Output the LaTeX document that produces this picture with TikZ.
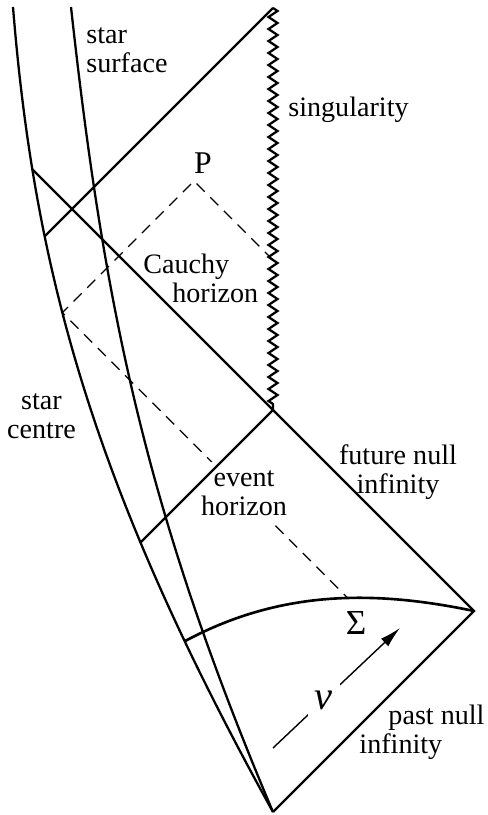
\documentclass[tikz,border=0pt]{standalone}
\usepackage{fontspec}
\setmainfont{Liberation Serif}
\usetikzlibrary{arrows.meta,intersections,decorations.pathmorphing}

\begin{document}
\begin{tikzpicture}[>={Latex[length=12pt,width=6pt]},
  every node/.style={font=\fontsize{16}{16.5}\selectfont, inner sep=0pt},
  line/.style={line width=1.3pt},
  ray/.style={line width=0.7pt, dash pattern=on 6.5pt off 4.5pt}]
  \useasboundingbox (0,0) rectangle (9.76,16.3);
  \coordinate (top) at (5.46,16.14);
  \coordinate (Ip) at (5.46,8.10);
  \coordinate (I0) at (9.48,4.08);
  \coordinate (Im) at (5.46,0.06);
  \coordinate (P) at (3.88,12.68);
  \coordinate (v0) at (5.46,1.34);
  \coordinate (v1) at (8.00,3.74);

  % star centre, star surface and Sigma
  \draw[line, name path=centre] (0.26,16.16) .. controls (0.70,10.70) and (1.95,6.40) .. coordinate[pos=0.81] (s0) (Im);
  \draw[line] (1.42,16.16) .. controls (2.08,10.16) and (2.92,6.06) .. (Im);
  \draw[line width=1.5pt, name path=sigma] (s0) .. controls (5.60,4.50) and (7.48,4.50) .. (I0);

  % light rays from P
  \path[name path=zz] (top) -- (Ip);
  \path[name path=pl] (P) -- ++(-4,-4);
  \path[name intersections={of=centre and pl, by=d1}];
  \path[name path=pr] (P) -- ++(3,-3);
  \path[name intersections={of=zz and pr, by=d2}];
  \path[name path=refl] (d1) -- ++(7,-7);
  \path[name intersections={of=sigma and refl, by=d3}];
  \draw[ray] (d2) -- (P) -- (d1) -- (d3);

  \node[fill=white, inner sep=5pt, align=center] (ev) at (4.88,6.44) {event\\horizon};

  % null lines and singularity
  \path[name path=na] (top) -- ++(-6,-6);
  \path[name intersections={of=centre and na, by=a}];
  \path[name path=nc] (Ip) -- ++(-6,6);
  \path[name intersections={of=centre and nc, by=c}];
  \path[name path=ne] (Ip) -- ++(-4,-4);
  \path[name intersections={of=centre and ne, by=e}];
  \draw[line] (a) -- (top);
  \draw[line] (c) -- (Ip) -- (I0) -- (Im);
  \draw[line] (Ip) -- (e);
  \draw[line, decorate, decoration={zigzag, segment length=0.24cm, amplitude=0.09cm}] (top) -- (Ip);

  \draw[->, line width=0.8pt] (v0) -- node[pos=0.4, fill=white, inner sep=4pt, font=\fontsize{23}{23}\selectfont] (v) {\textit{v}} (v1);

  \node[align=left, anchor=west] (surf) at (1.72,15.3) {star\\surface};
  \node[anchor=west] (sing) at (5.76,14.10) {singularity};
  \node[font=\fontsize{18}{18}\selectfont] (Plab) at (4.06,13.04) {P};
  \node[align=left, anchor=north west] (cauchy) at (2.86,11.22) {Cauchy\\\hspace*{16.5pt}horizon};
  \node[align=center] (cen) at (0.83,7.98) {star\\centre};
  \node[align=center] (fut) at (7.96,6.86) {future null\\infinity};
  \node[align=left] (past) at (8.44,1.66) {\hspace*{16.5pt}past null\\infinity};
  \node[font=\fontsize{20}{20}\selectfont] (Sig) at (7.12,3.84) {Σ};
\end{tikzpicture}
\end{document}
